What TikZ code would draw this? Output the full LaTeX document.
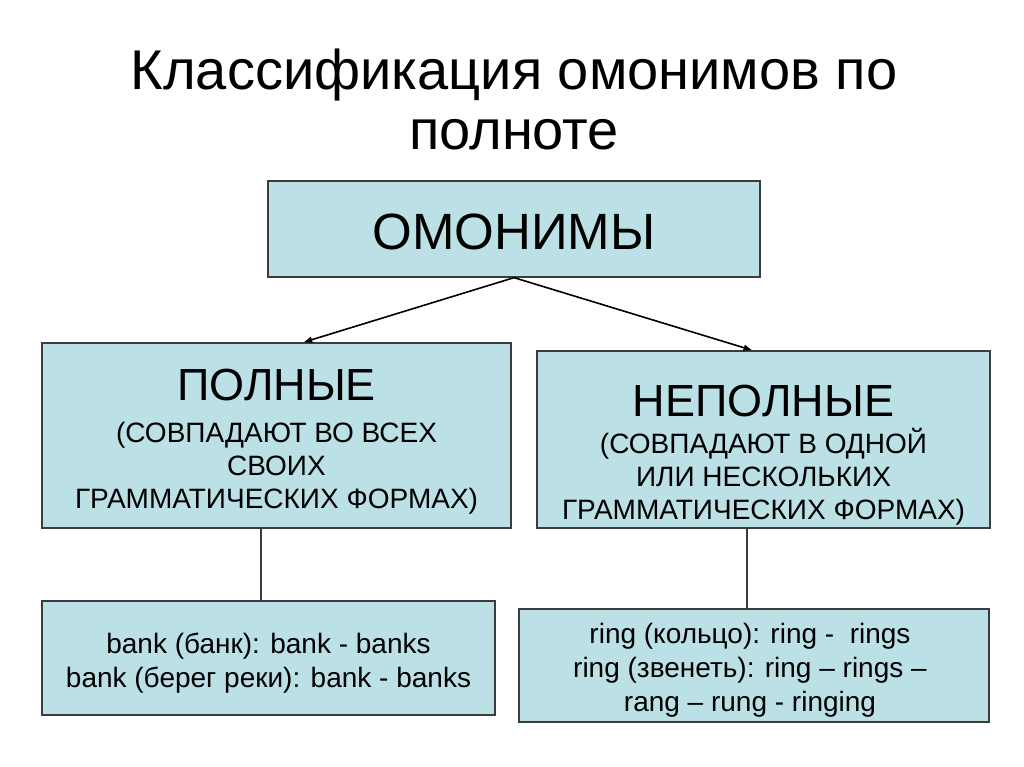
\documentclass[tikz,border=0pt]{standalone}
\usepackage{fontspec}
\setmainfont{Liberation Sans}
\usetikzlibrary{arrows.meta,positioning}
\definecolor{boxfill}{RGB}{187,224,229}
\definecolor{boxline}{RGB}{60,60,60}
\tikzset{
tree/.style={x=1pt,y=-1pt,>={Latex[length=9pt,width=7pt]},line width=1.6pt},
class/.style={rectangle,draw=boxline,fill=boxfill,line width=1.3pt,inner sep=0pt},
label text/.style={align=center,inner sep=0pt,font=\subtxt},
link/.style={draw=boxline,line width=1.2pt},
}
\newcommand{\bigtxt}{\fontsize{45}{48}\selectfont}
\newcommand{\subtxt}{\fontsize{28}{33}\selectfont}

\begin{document}
\begin{tikzpicture}[tree]
\useasboundingbox[fill=white] (0,0) rectangle (1024,767);
\node (title) at (514,99.5) [align=center,inner sep=0pt,
    font=\fontsize{56}{60}\selectfont] {Классификация омонимов по\\полноте};

% boxes
\node[class,minimum width=492pt,minimum height=96pt] (omonimy) at (514,229) {};
\node[class,minimum width=469pt,minimum height=185pt] (polnye) at (276.5,435.5) {};
\node[class,minimum width=453pt,minimum height=177pt] (nepolnye) at (763.5,439.5) {};
\node[class,minimum width=453pt,minimum height=114pt] (bank) at (268.5,658) {};
\node[class,minimum width=470pt,minimum height=113pt] (ring) at (754,665.5) {};

% texts
\node[label text,font=\fontsize{51}{56}\selectfont] (omonimy-txt)
    at ([yshift=-3pt]omonimy.center) {ОМОНИМЫ};
\node[label text] (polnye-txt) at (276.5,441.5)
    {{\bigtxt ПОЛНЫЕ}\\[9pt] (СОВПАДАЮТ ВО ВСЕХ\\ СВОИХ\\ ГРАММАТИЧЕСКИХ ФОРМАХ)};
\node[label text] (nepolnye-txt) at (763.5,455)
    {{\bigtxt НЕПОЛНЫЕ}\\[4pt] (СОВПАДАЮТ В ОДНОЙ\\ ИЛИ НЕСКОЛЬКИХ\\
     ГРАММАТИЧЕСКИХ ФОРМАХ)};
\node[label text,font=\fontsize{28}{34}\selectfont] (bank-txt) at (268.5,663.5)
    {bank (банк): bank - banks\\ bank (берег реки): bank - banks};
\node[label text,font=\fontsize{28}{34}\selectfont] (ring-txt) at (750,670.5)
    {ring (кольцо): ring -\ \ rings\\ ring (звенеть): ring – rings –\\
     rang – rung - ringing};

% connectors
\draw[->] (omonimy.south) -- (polnye.74);
\draw[->] (omonimy.south) -- (nepolnye.97);
\path[link] ([xshift=-15.5pt]polnye.south) -- ([xshift=-7.5pt]bank.north);
\path[link] ([xshift=-16.5pt]nepolnye.south) -- ([xshift=-7pt]ring.north);
\end{tikzpicture}
\end{document}
